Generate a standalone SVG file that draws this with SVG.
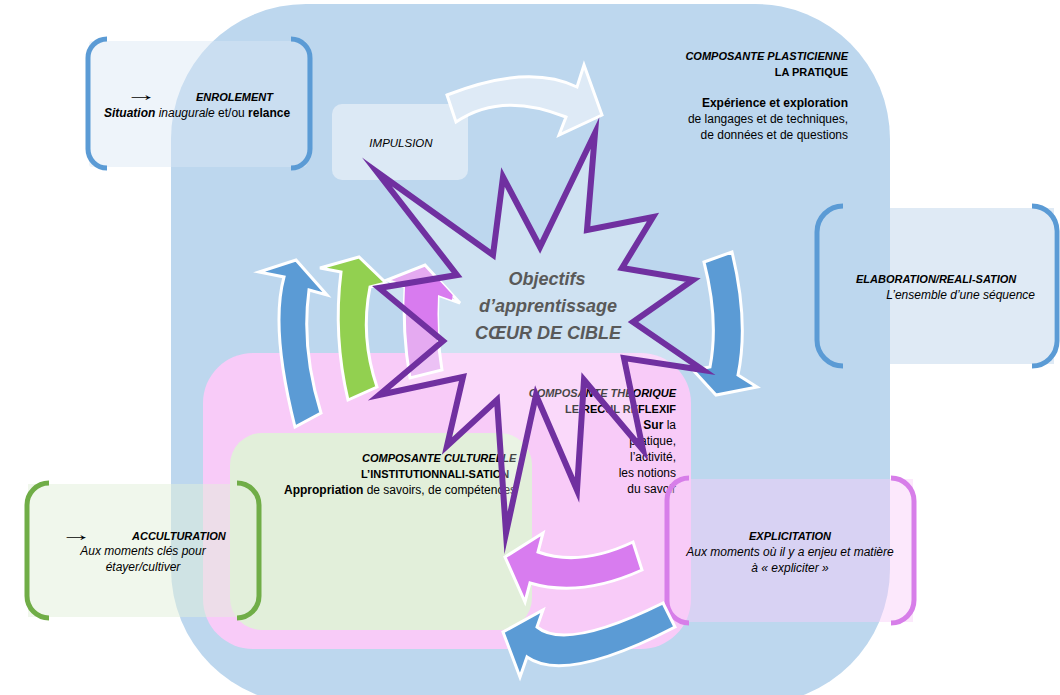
<svg xmlns="http://www.w3.org/2000/svg" width="1060" height="695" viewBox="0 0 1060 695">
<defs>
<style>
text{font-family:"Liberation Sans",Arial,sans-serif;font-size:12px;fill:#000}
.h{font-size:11px;font-weight:bold;font-style:italic}
.hb{font-size:11px;font-weight:bold}
.b{font-weight:bold}
.i{font-style:italic}
.arr{font-size:19px}
.c{font-size:18px;font-weight:bold;font-style:italic;fill:#595959}
.brB{fill:none;stroke:#5b9bd5;stroke-width:5}
.brG{fill:none;stroke:#70ad47;stroke-width:5}
.brP{fill:none;stroke:#d77ee9;stroke-width:5}
.ar{stroke:#fff;stroke-width:3;stroke-linejoin:miter}
</style>
<clipPath id="pinkClip"><path d="M410,378 Q402,332 405,287 L387,280 L425,265 L460,303 L438,295 Q436,333 442,370 Z"/></clipPath>
</defs>

<g id="elaboration-fill"><rect x="820" y="208" width="234" height="156" fill="#dfeaf5"/></g>

<g id="plasticienne">
<rect x="171" y="4" width="719" height="700" rx="135" ry="135" fill="#bdd7ee"/>
<text class="h" x="848" y="60" text-anchor="end">COMPOSANTE PLASTICIENNE</text>
<text class="hb" x="848" y="76" text-anchor="end">LA PRATIQUE</text>
<text class="b" x="848" y="107" text-anchor="end">Expérience et exploration</text>
<text x="848" y="123" text-anchor="end">de langages et de techniques,</text>
<text x="848" y="139" text-anchor="end">de données et de questions</text>
</g>

<g id="enrolement">
<rect x="89" y="41" width="218" height="126" rx="3" fill="#dae6f4" fill-opacity="0.45"/>
<path class="brB" d="M107,39 A19,19 0 0 0 88,58 V149 A19,19 0 0 0 107,168"/>
<path class="brB" d="M291,39 A19,19 0 0 1 310,58 V149 A19,19 0 0 1 291,168"/>
<text class="arr" transform="translate(125,101) scale(1.7,1)">→</text>
<text class="h" x="196" y="101">ENROLEMENT</text>
<text x="104" y="117"><tspan class="b i">Situation</tspan><tspan class="i"> inaugurale</tspan> et/ou <tspan class="b">relance</tspan></text>
</g>

<g id="impulsion">
<rect x="332" y="104" width="136" height="76" rx="10" fill="#dce9f5"/>
<text class="i" x="401" y="147" text-anchor="middle" style="font-size:11.5px">IMPULSION</text>
</g>

<g id="elaboration">
<path class="brB" d="M843,206 A26,26 0 0 0 817,232 V340 A26,26 0 0 0 843,366"/>
<path class="brB" d="M1032,206 A25,25 0 0 1 1057,231 V341 A25,25 0 0 1 1032,366"/>
<text class="h" x="856" y="283">ELABORATION/REALI-SATION</text>
<text class="i" x="1035" y="299" text-anchor="end">L’ensemble d’une séquence</text>
</g>

<g id="theorique">
<rect x="203" y="353" width="488" height="296" rx="50" ry="50" fill="#f8cbf8"/>
<text class="h" x="676" y="397" text-anchor="end">COMPOSANTE THEORIQUE</text>
<text class="hb" x="676" y="413" text-anchor="end">LE RECUL REFLEXIF</text>
<text x="676" y="429" text-anchor="end"><tspan class="b">Sur</tspan> la</text>
<text x="676" y="445" text-anchor="end">pratique,</text>
<text x="676" y="461" text-anchor="end">l’activité,</text>
<text x="676" y="477" text-anchor="end">les notions</text>
<text x="676" y="493" text-anchor="end">du savoir</text>
</g>

<g id="culturelle">
<rect x="230" y="433" width="302" height="197" rx="32" ry="32" fill="#e2efda"/>
<text class="h" x="362" y="462">COMPOSANTE CULTURELLE</text>
<text class="hb" x="361" y="478">L’INSTITUTIONNALI-SATION</text>
<text x="284" y="494"><tspan class="b">Appropriation</tspan> de savoirs, de compétences</text>
</g>

<g id="acculturation">
<rect x="28" y="484" width="230" height="133" fill="#e2efda" fill-opacity="0.5"/>
<path class="brG" d="M49,483 A22,22 0 0 0 27,505 V596 A22,22 0 0 0 49,618"/>
<path class="brG" d="M237,483 A22,22 0 0 1 259,505 V596 A22,22 0 0 1 237,618"/>
<text class="arr" transform="translate(60,541) scale(1.7,1)">→</text>
<text class="h" x="132" y="540">ACCULTURATION</text>
<text class="i" x="143" y="555" text-anchor="middle">Aux moments clés pour</text>
<text class="i" x="143" y="571" text-anchor="middle">étayer/cultiver</text>
</g>

<g id="explicitation">
<rect x="668" y="479" width="245" height="143" fill="#f8ccf8" fill-opacity="0.45"/>
<path class="brP" d="M689,478 A22,22 0 0 0 667,500 V601 A22,22 0 0 0 689,623"/>
<path class="brP" d="M891,478 A23,23 0 0 1 914,501 V600 A23,23 0 0 1 891,623"/>
<text class="h" x="790" y="540" text-anchor="middle">EXPLICITATION</text>
<text class="i" x="790" y="556" text-anchor="middle">Aux moments où il y a enjeu et matière</text>
<text class="i" x="790" y="572" text-anchor="middle">à « expliciter »</text>
</g>

<g id="connectors">
<path class="ar" fill="#deeaf6" d="M447,95 Q528,63 577,87 L584,65 L602,115 L559,135 L566,117 Q501,91 456,122 Z"/>
<path class="ar" fill="#5b9bd5" d="M295,427 Q270,328 284,277 L259,272 L296,260 L327,295 L309,290 Q301,349 321,413 Z"/>
<path class="ar" fill="#92d050" d="M348,400 Q333,336 341,272 L320,268 L359,257 L386,283 L370,287 Q360,337 377,387 Z"/>
<path class="ar" fill="#e5aaf1" d="M410,378 Q402,332 405,287 L387,280 L425,265 L460,303 L438,295 Q436,333 442,370 Z"/>
<polygon clip-path="url(#pinkClip)" points="379,288 457,275 443,341" fill="#ca4be9"/>
<path class="ar" fill="#5b9bd5" d="M704,262 Q719,320 710,367 L693,370 L716,395 L757,387 L738,375 Q749,322 732,252 Z"/>
<path class="ar" fill="#d87cef" d="M633,542 Q580,567 538,552 L543,533 L505,557 L525,602 L530,583 Q580,598 642,570 Z"/>
<path class="ar" fill="#5b9bd5" d="M663,603 Q566,651 537,627 L543,610 L503,632 L520,677 L527,657 Q565,684 675,627 Z"/>
</g>

<g id="objectifs">
<polygon points="377,172 493,255 503,177 540,247 595,133 587,230 653,217 622,268 693,280 633,322 703,370 624,358 643,450 584,380 577,490 536,395 506,533 497,400 447,446 463,377 379,395 443,341 379,288 457,275" fill="#fff" fill-opacity="0.27" stroke="#7030a0" stroke-width="6" stroke-linejoin="miter" stroke-miterlimit="10"/>
<text class="c" x="547" y="285" text-anchor="middle">Objectifs</text>
<text class="c" x="548" y="312" text-anchor="middle">d’apprentissage</text>
<text class="c" x="548" y="339" text-anchor="middle">CŒUR DE CIBLE</text>
</g>
</svg>
